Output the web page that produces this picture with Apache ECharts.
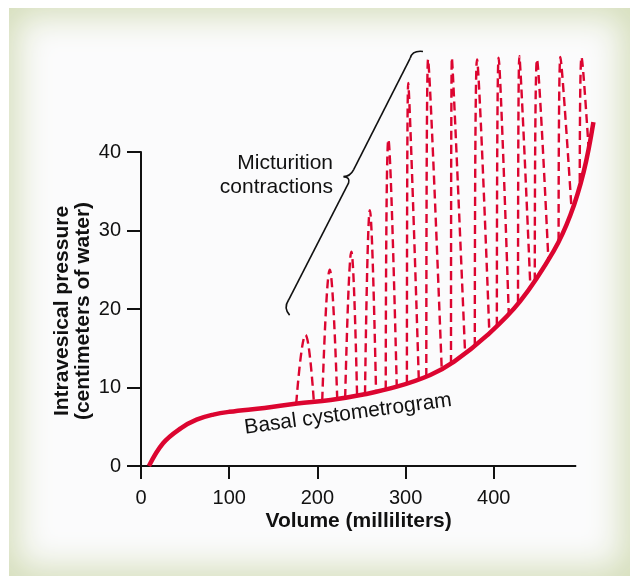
<!DOCTYPE html>
<html><head><meta charset="utf-8">
<script src="https://cdn.jsdelivr.net/npm/echarts@6/dist/echarts.min.js"></script>
<style>
html,body{margin:0;padding:0;background:#fff;width:630px;height:576px;overflow:hidden}
#panel{position:absolute;left:9px;top:8px;width:621px;height:568px;background:#fbfbfc;box-shadow:inset 0 0 34px 8px #d4ddb9;}
#chart{position:absolute;left:0;top:0;width:630px;height:576px}
</style></head><body><div id="panel"></div><div id="chart"></div>
<script>
// Basal cystometrogram (volume ml, pressure cm H2O)
const basalX = [9, 25, 45, 63, 82, 100, 140, 177, 215, 252, 290, 328, 355, 392, 430, 468, 487, 502, 513];
const basalY = [0, 2.9, 4.8, 5.9, 6.55, 6.9, 7.4, 7.95, 8.4, 9.1, 10.1, 11.6, 13.3, 16.6, 21, 27.4, 32, 37.5, 43.8];

// Micturition contractions: start on basal curve, peak, end on basal curve
const startX = [176, 205.5, 231.5, 254, 277.5, 301.5, 323.5, 351.5, 378.5, 403.5, 427.5, 446.5, 473.5, 497.5];
const startY = [7.95, 8.35, 8.7, 9.15, 9.75, 10.5, 11.35, 13.0, 15.3, 17.9, 20.8, 23.5, 28.7, 36.2];
const peakX  = [186.5, 214, 238.5, 259.5, 280.5, 303, 325.5, 352.5, 381, 405.5, 429, 449, 475.5, 499.5];
const peakY  = [16.7, 25.0, 27.3, 32.6, 41.6, 48.8, 51.8, 52.0, 51.8, 52.0, 52.2, 51.8, 52.1, 52.1];
const endX   = [196, 222.5, 245, 266.5, 290, 315, 341, 367.5, 395, 417, 441.5, 462, 488.5, 507.5];
const endY   = [8.2, 8.55, 8.95, 9.5, 10.1, 11.0, 12.3, 14.3, 16.9, 19.4, 22.8, 26.1, 32.2, 40.5];

const xTicks = [0, 100, 200, 300, 400];
const yTicks = [0, 10, 20, 30, 40];
const xAxisEnd = 493.5;   // where the drawn x-axis line stops

// Bracket annotation anchors (data coordinates)
const bracketPts = {
  T0: [319.7, 52.81], Tc: [307.6, 52.96], T2: [305.3, 51.97],
  M0: [241.0, 37.72], Mc1: [237.3, 36.89], M1: [229.7, 36.86], Mc2: [237.3, 36.76], M2: [235.4, 36.06],
  B0: [167.3, 21.14], Bc: [161.3, 20.12], B2: [168.5, 19.22]
};

const RED = '#dc0530';
const INK = '#111';
const FONT = '"Liberation Sans", Arial, Helvetica, sans-serif';

const basalData = basalX.map((x, i) => [x, basalY[i]]);
const contractionSeries = startX.map((s, i) => ({
  type: 'line', smooth: 0.45, symbol: 'none', clip: false, z: 2, silent: true,
  lineStyle: { color: RED, width: 2.4, type: [9, 5] },
  data: [[s, startY[i]], [peakX[i], peakY[i]], [endX[i], endY[i]]]
}));

const chart = echarts.init(document.getElementById('chart'), null, { renderer: 'canvas' });
chart.setOption({
  backgroundColor: 'transparent',
  animation: false,
  textStyle: { fontFamily: FONT },
  grid: { left: 141, right: 30.4, top: 152, bottom: 110 },
  xAxis: {
    type: 'value', min: 0, max: 520,
    axisLine: { show: false },
    axisTick: { show: true, length: 13, customValues: xTicks, lineStyle: { color: INK, width: 2 } },
    axisLabel: { customValues: xTicks, fontSize: 20, color: INK, margin: 22, fontFamily: FONT },
    splitLine: { show: false }
  },
  yAxis: {
    type: 'value', min: 0, max: 40, interval: 10,
    axisLine: { show: true, onZero: false, lineStyle: { color: INK, width: 2 } },
    axisTick: { show: true, length: 14, customValues: yTicks, lineStyle: { color: INK, width: 2 } },
    axisLabel: { customValues: yTicks, fontSize: 20, color: INK, margin: 20, fontFamily: FONT },
    splitLine: { show: false }
  },
  series: contractionSeries.concat([{
    type: 'line', smooth: 0.4, symbol: 'none', clip: false, z: 5, silent: true,
    lineStyle: { color: RED, width: 4.5, cap: 'butt' },
    data: basalData,
    markLine: {
      silent: true, symbol: ['none', 'none'], label: { show: false },
      lineStyle: { color: INK, width: 2, type: 'solid' },
      data: [[{ coord: [0, 0] }, { coord: [xAxisEnd, 0] }]]
    }
  }])
});

const P = k => chart.convertToPixel({ gridIndex: 0 }, bracketPts[k]);
const seg = (a, b) => ({ type: 'line', silent: true, z: 10,
  shape: { x1: P(a)[0], y1: P(a)[1], x2: P(b)[0], y2: P(b)[1] },
  style: { stroke: INK, lineWidth: 1.6, fill: null } });
const curve = (a, c, b) => ({ type: 'bezierCurve', silent: true, z: 10,
  shape: { x1: P(a)[0], y1: P(a)[1], cpx1: P(c)[0], cpy1: P(c)[1], x2: P(b)[0], y2: P(b)[1] },
  style: { stroke: INK, lineWidth: 1.6, fill: null } });

const axL = chart.convertToPixel({ gridIndex: 0 }, [0, 0]);
const axR = chart.convertToPixel({ gridIndex: 0 }, [xAxisEnd, 0]);
const axT = chart.convertToPixel({ gridIndex: 0 }, [0, 40]);

chart.setOption({
  graphic: [
    curve('T0', 'Tc', 'T2'), seg('T2', 'M0'), curve('M0', 'Mc1', 'M1'), curve('M1', 'Mc2', 'M2'),
    seg('M2', 'B0'), curve('B0', 'Bc', 'B2'),
    { type: 'text', x: 333, y: 175.5, silent: true, z: 10,
      style: { text: 'Micturition\ncontractions', align: 'right', verticalAlign: 'middle', fontSize: 21, fontFamily: FONT, lineHeight: 24.4, fill: INK } },
    { type: 'text', x: 348, y: 414, rotation: 0.134, silent: true, z: 10,
      style: { text: 'Basal cystometrogram', align: 'center', verticalAlign: 'middle', fontSize: 21, fontFamily: FONT, fill: INK } },
    { type: 'text', x: (axL[0] + axR[0]) / 2, y: axL[1] + 55.5, silent: true, z: 10,
      style: { text: 'Volume (milliliters)', align: 'center', verticalAlign: 'middle', fontSize: 21, fontWeight: 'bold', fontFamily: FONT, fill: INK } },
    { type: 'text', x: axL[0] - 68.5, y: (axL[1] + axT[1]) / 2 + 2, rotation: Math.PI / 2, silent: true, z: 10,
      style: { text: 'Intravesical pressure\n(centimeters of water)', align: 'center', verticalAlign: 'middle', fontSize: 21, fontWeight: 'bold', fontFamily: FONT, lineHeight: 21.3, fill: INK } }
  ]
});
</script>
</body></html>
